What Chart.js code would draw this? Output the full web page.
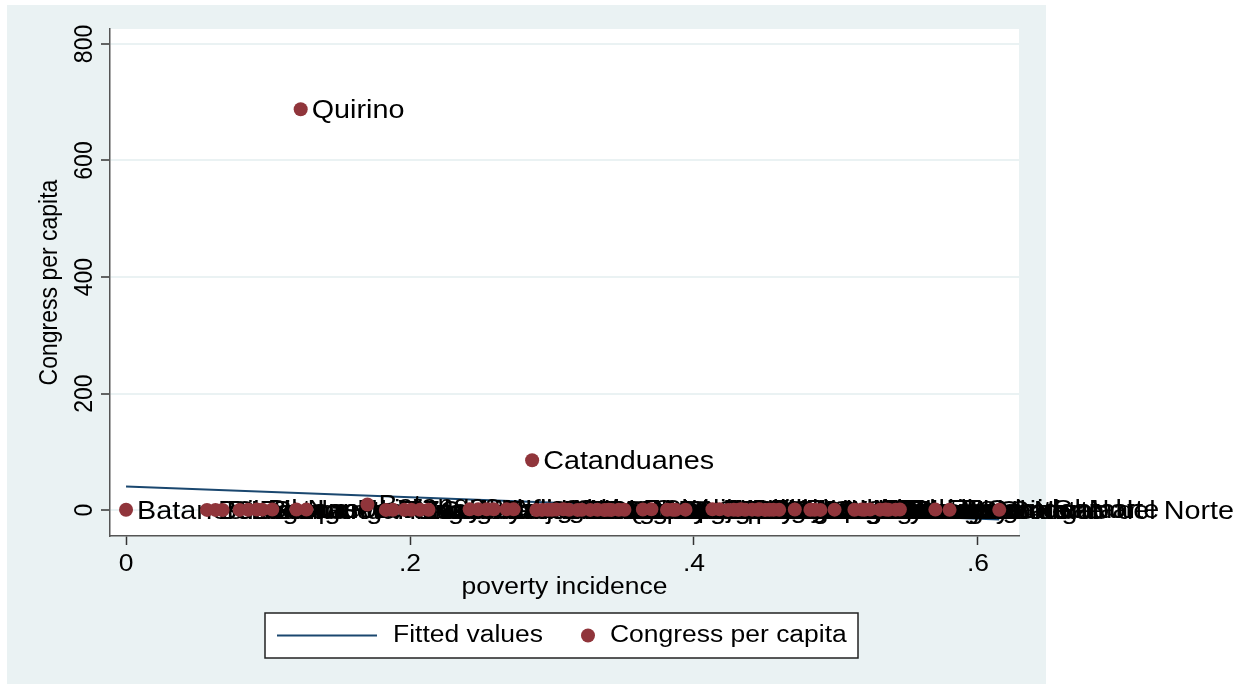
<!DOCTYPE html>
<html>
<head>
<meta charset="utf-8">
<script src="https://cdn.jsdelivr.net/npm/chart.js@4.4.1/dist/chart.umd.min.js"></script>
<style>
  html, body { margin: 0; padding: 0; background: #fff; }
</style>
</head>
<body>
<canvas id="povertyScatter" width="1257" height="684"></canvas>
<script>
// province, poverty incidence, congress per capita
const provinces = [
  'Batanes', 'Bulacan', 'Rizal', 'Cavite', 'Laguna', 'Pampanga', 'Bataan', 'Benguet', 'Ilocos Norte',
  'Nueva Vizcaya', 'Quirino', 'La Union', 'Batangas', 'Pangasinan', 'Tarlac', 'Nueva Ecija', 'Zambales',
  'Isabela', 'Cagayan', 'Ilocos Sur', 'Aurora', 'Abra', 'Kalinga', 'Mountain Province', 'Ifugao',
  'Catanduanes', 'Cebu', 'Iloilo', 'Oriental Mindoro', 'Aklan', 'Guimaras', 'Misamis Oriental',
  'South Cotabato', 'Davao del Sur', 'Palawan', 'Negros Occidental', 'Quezon', 'Capiz', 'Albay',
  'Southern Leyte', 'Siquijor', 'Davao del Norte', 'Compostela Valley', 'Antique', 'Camiguin',
  'Marinduque', 'Bohol', 'Leyte', 'Camarines Norte', 'Occidental Mindoro', 'Biliran', 'Negros Oriental',
  'Sultan Kudarat', 'Cotabato', 'Romblon', 'Sorsogon', 'Camarines Sur', 'Agusan del Norte', 'Samar',
  'Misamis Occidental', 'Zamboanga del Norte', 'Sarangani', 'Lanao del Norte', 'Davao Oriental',
  'Eastern Samar', 'Masbate', 'Surigao del Norte',
  'Bukidnon', 'Zamboanga del Sur', 'Agusan del Sur', 'Surigao del Sur', 'Zamboanga Sibugay',
  'Dinagat Islands', 'Northern Samar', 'Lanao del Sur', 'Maguindanao', 'Sulu', 'Tawi-Tawi', 'Basilan'
];
const povertyIncidence = [
  0.000, 0.057, 0.063, 0.068, 0.080, 0.086, 0.092, 0.096, 0.103,
  0.120, 0.123, 0.127, 0.170, 0.183, 0.188, 0.196, 0.201,
  0.207, 0.213, 0.242, 0.248, 0.254, 0.259, 0.268, 0.273,
  0.286, 0.289, 0.293, 0.297, 0.303, 0.308, 0.312,
  0.321, 0.327, 0.332, 0.337, 0.342, 0.347, 0.351,
  0.364, 0.370, 0.381, 0.387, 0.394, 0.413,
  0.418, 0.424, 0.431, 0.436, 0.441, 0.446, 0.450,
  0.456, 0.460, 0.471, 0.482, 0.489, 0.499, 0.513,
  0.518, 0.524, 0.531, 0.537, 0.542,
  0.570, 0.580, 0.615,
  0.300, 0.318, 0.340, 0.385, 0.428,
  0.433, 0.445, 0.453, 0.485, 0.520, 0.535, 0.545
];
const congressPerCapita = [
  0.6, 0.3, 0.3, 0.2, 0.3, 0.4, 0.9, 0.7, 0.9,
  1.1, 688, 0.8, 9.5, 0.3, 0.5, 0.4, 0.6,
  0.4, 0.5, 1.2, 1.4, 1.3, 1.5, 1.4, 1.2,
  85.5, 0.2, 0.3, 0.6, 0.8, 1.3, 0.4,
  0.4, 0.3, 0.5, 0.2, 0.3, 0.6, 0.5,
  0.9, 1.4, 0.4, 0.5, 0.7, 1.5,
  1.2, 0.3, 0.3, 0.6, 0.7, 1.4, 0.3,
  0.6, 0.4, 1.0, 0.5, 0.3, 0.7, 0.5,
  0.8, 0.9, 0.7, 0.6, 0.7,
  0.8, 0.4, 0.4,
  0.4, 0.3, 0.5, 0.6, 0.5,
  1.6, 0.4, 0.5, 0.4, 0.4, 0.9, 1.0
];
const fittedX = [0, 0.615];
const fittedY = [40.6, -16];

const xTicks = [0, 0.2, 0.4, 0.6];
const xTickLabels = ['0', '.2', '.4', '.6'];
const yTicks = [0, 200, 400, 600, 800];
const yTickLabels = ['0', '200', '400', '600', '800'];
const seriesNames = ['Fitted values', 'Congress per capita'];

const NAVY = '#1a476f';
const MAROON = '#90353b';
const FONT = 'Arial, "Liberation Sans", sans-serif';

const canvas = document.getElementById('povertyScatter');
const ctx = canvas.getContext('2d');

// the picture's text is wider than Arial at its height, so stretch glyphs horizontally
const STRETCH = 1.15;
const rawFill = ctx.fillText.bind(ctx);
ctx.fillText = function (text, x, y, maxWidth) {
  const m = ctx.getTransform();
  const ax = m.a * x + m.c * y + m.e;
  ctx.save();
  ctx.setTransform(m.a * STRETCH, m.b, m.c * STRETCH, m.d, m.e * STRETCH + ax * (1 - STRETCH), m.f);
  if (maxWidth === undefined) rawFill(text, x, y); else rawFill(text, x, y, maxWidth);
  ctx.restore();
};

const backdrop = {
  id: 'backdrop',
  beforeDraw(chart) {
    const c = chart.ctx, a = chart.chartArea;
    c.save();
    c.fillStyle = '#ffffff';
    c.fillRect(0, 0, chart.width, chart.height);
    c.fillStyle = '#eaf2f3';
    c.fillRect(7, 5, 1039, 679);
    c.fillStyle = '#ffffff';
    c.fillRect(a.left, a.top, a.right - a.left, a.bottom - a.top);
    c.restore();
  }
};

// marker labels go under the markers, like Stata's mlabel
const markerLabels = {
  id: 'markerLabels',
  beforeDatasetDraw(chart, args) {
    if (args.index !== 1) return;
    const c = chart.ctx;
    c.save();
    c.font = '25px ' + FONT;
    c.fillStyle = '#000';
    c.textAlign = 'left';
    c.textBaseline = 'middle';
    args.meta.data.forEach((pt, i) => {
      c.fillText(provinces[i], pt.x + 11, pt.y + 2);
    });
    c.restore();
  }
};

const boxLegend = {
  id: 'boxLegend',
  afterDraw(chart) {
    const c = chart.ctx;
    c.save();
    c.fillStyle = '#fff';
    c.fillRect(265, 613, 593, 45);
    c.strokeStyle = '#222';
    c.lineWidth = 1.5;
    c.strokeRect(265, 613, 593, 45);
    c.strokeStyle = NAVY;
    c.lineWidth = 2;
    c.beginPath();
    c.moveTo(277, 635.5);
    c.lineTo(377, 635.5);
    c.stroke();
    c.fillStyle = MAROON;
    c.beginPath();
    c.arc(588, 635.5, 7, 0, Math.PI * 2);
    c.fill();
    c.font = '23px ' + FONT;
    c.fillStyle = '#000';
    c.textAlign = 'left';
    c.textBaseline = 'middle';
    c.fillText(seriesNames[0], 393, 636);
    c.fillText(seriesNames[1], 610, 636);
    c.restore();
  }
};

new Chart(ctx, {
  type: 'scatter',
  data: {
    datasets: [
      {
        type: 'line',
        label: seriesNames[0],
        data: fittedX.map((x, i) => ({x: x, y: fittedY[i]})),
        borderColor: NAVY,
        borderWidth: 2,
        pointRadius: 0,
        showLine: true,
        fill: false,
        order: 2
      },
      {
        label: seriesNames[1],
        data: povertyIncidence.map((x, i) => ({x: x, y: congressPerCapita[i]})),
        backgroundColor: MAROON,
        borderColor: MAROON,
        borderWidth: 0,
        pointRadius: 7,
        pointHoverRadius: 7,
        order: 1
      }
    ]
  },
  options: {
    responsive: false,
    animation: false,
    events: [],
    layout: { padding: { left: 36, top: 29, right: 238, bottom: 83 } },
    plugins: {
      legend: { display: false },
      tooltip: { enabled: false }
    },
    scales: {
      x: {
        type: 'linear',
        min: -0.0113,
        max: 0.6289,
        afterBuildTicks: s => { s.ticks = xTicks.map(v => ({value: v})); },
        afterFit: s => { s.height = 65; },
        ticks: {
          callback: (v, i) => xTickLabels[i],
          color: '#000',
          font: { family: FONT, size: 23 },
          padding: 6,
          maxRotation: 0
        },
        grid: { drawOnChartArea: false, tickLength: 9, tickColor: '#333', tickWidth: 1.5 },
        border: { color: '#555', width: 1.5 },
        title: {
          display: true,
          text: 'poverty incidence',
          color: '#000',
          font: { family: FONT, size: 23 },
          padding: 0
        }
      },
      y: {
        min: -44.5,
        max: 825.7,
        afterBuildTicks: s => { s.ticks = yTicks.map(v => ({value: v})); },
        afterFit: s => { s.width = 74; },
        ticks: {
          callback: (v, i) => yTickLabels[i],
          color: '#000',
          font: { family: FONT, size: 23 },
          minRotation: 90,
          maxRotation: 90,
          crossAlign: 'center',
          padding: -3
        },
        grid: { color: '#eaf2f3', lineWidth: 2, tickLength: 9, tickColor: '#333', tickWidth: 1.5 },
        border: { color: '#555', width: 1.5 },
        title: {
          display: true,
          text: 'Congress per capita',
          color: '#000',
          font: { family: FONT, size: 23 },
          padding: 0
        }
      }
    }
  },
  plugins: [backdrop, markerLabels, boxLegend]
});
</script>
</body>
</html>
